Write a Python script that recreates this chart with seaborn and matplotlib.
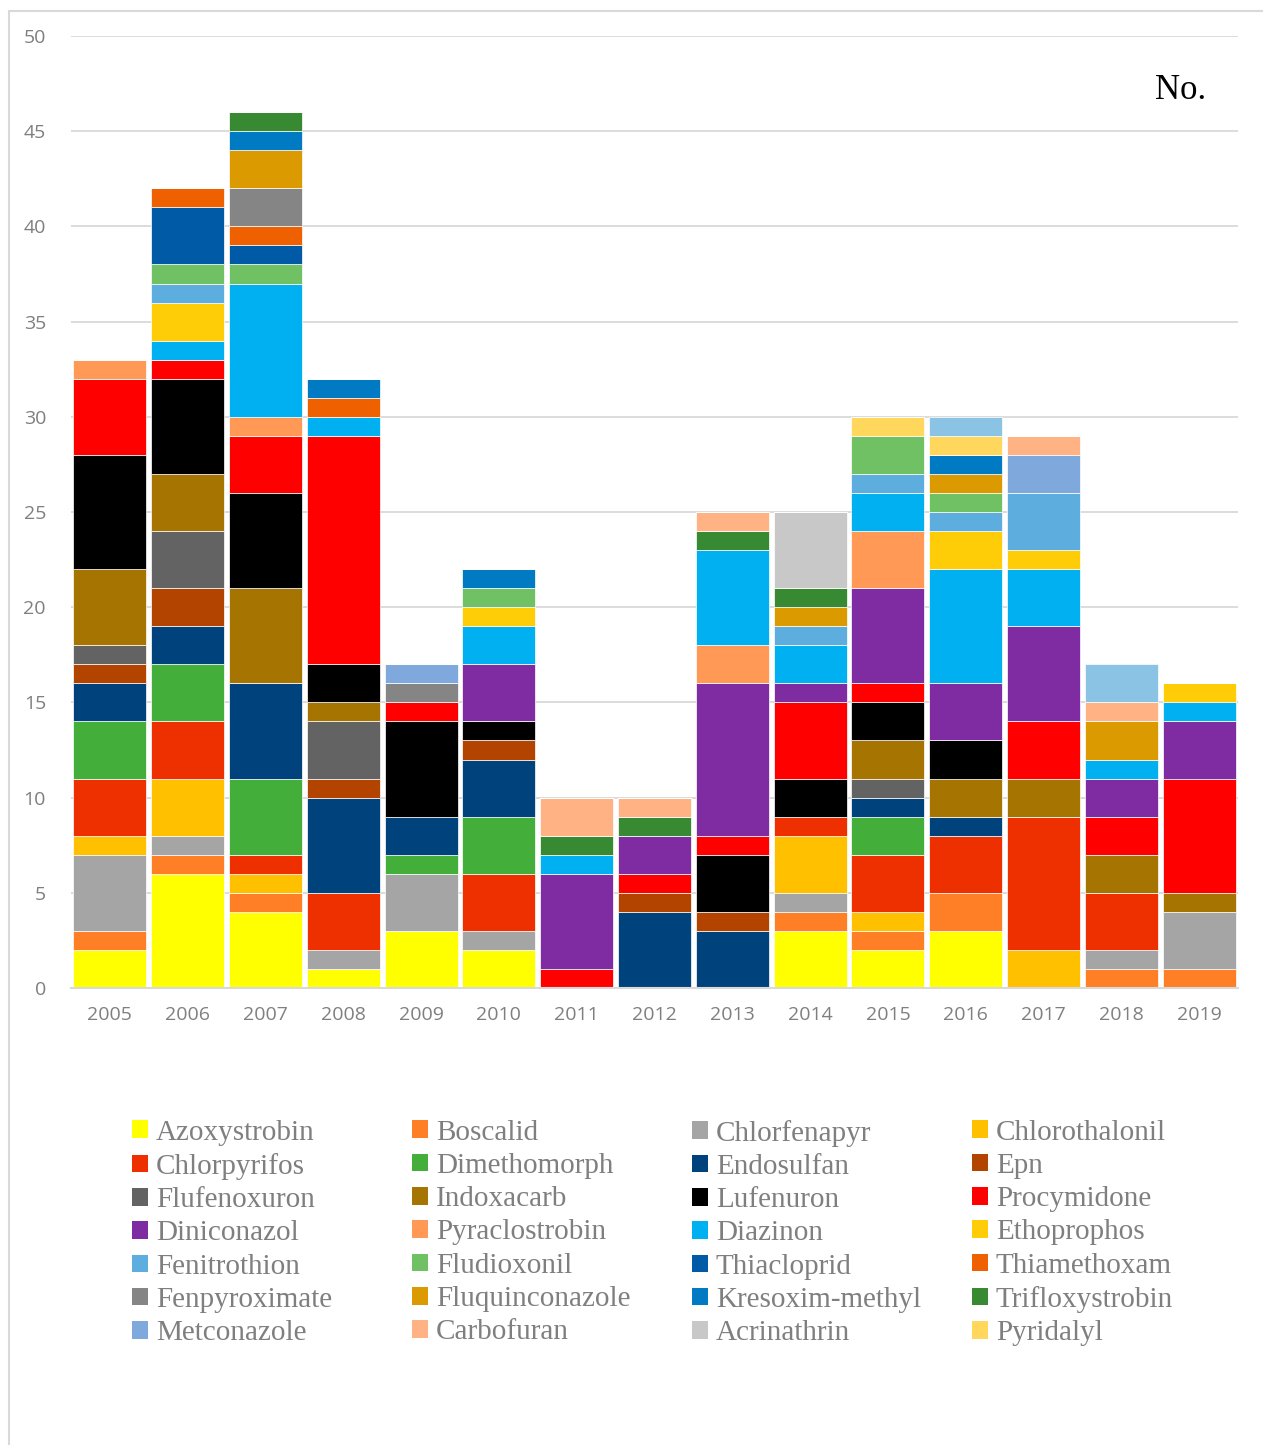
import pandas as pd
import seaborn as sns
import matplotlib.pyplot as plt
from matplotlib.patches import Patch
from matplotlib.lines import Line2D

years = list(range(2005, 2020))

# counts per year, 2005 ... 2019 (stacked bottom -> top in this order)
azoxystrobin    = [2, 6, 4, 1, 3, 2, 0, 0, 0, 3, 2, 3, 0, 0, 0]
boscalid        = [1, 1, 1, 0, 0, 0, 0, 0, 0, 1, 1, 2, 0, 1, 1]
chlorfenapyr    = [4, 1, 0, 1, 3, 1, 0, 0, 0, 1, 0, 0, 0, 1, 3]
chlorothalonil  = [1, 3, 1, 0, 0, 0, 0, 0, 0, 3, 1, 0, 2, 0, 0]
chlorpyrifos    = [3, 3, 1, 3, 0, 3, 0, 0, 0, 1, 3, 3, 7, 3, 0]
dimethomorph    = [3, 3, 4, 0, 1, 3, 0, 0, 0, 0, 2, 0, 0, 0, 0]
endosulfan      = [2, 2, 5, 5, 2, 3, 0, 4, 3, 0, 1, 1, 0, 0, 0]
epn             = [1, 2, 0, 1, 0, 1, 0, 1, 1, 0, 0, 0, 0, 0, 0]
flufenoxuron    = [1, 3, 0, 3, 0, 0, 0, 0, 0, 0, 1, 0, 0, 0, 0]
indoxacarb      = [4, 3, 5, 1, 0, 0, 0, 0, 0, 0, 2, 2, 2, 2, 1]
lufenuron       = [6, 5, 5, 2, 5, 1, 0, 0, 3, 2, 2, 2, 0, 0, 0]
procymidone     = [4, 1, 3, 12, 1, 0, 1, 1, 1, 4, 1, 0, 3, 2, 6]
diniconazol     = [0, 0, 0, 0, 0, 3, 5, 2, 8, 1, 5, 3, 5, 2, 3]
pyraclostrobin  = [1, 0, 1, 0, 0, 0, 0, 0, 2, 0, 3, 0, 0, 0, 0]
diazinon        = [0, 1, 7, 1, 0, 2, 1, 0, 5, 2, 2, 6, 3, 1, 1]
ethoprophos     = [0, 2, 0, 0, 0, 1, 0, 0, 0, 0, 0, 2, 1, 0, 1]
fenitrothion    = [0, 1, 0, 0, 0, 0, 0, 0, 0, 1, 1, 1, 3, 0, 0]
fludioxonil     = [0, 1, 1, 0, 0, 1, 0, 0, 0, 0, 2, 1, 0, 0, 0]
thiacloprid     = [0, 3, 1, 0, 0, 0, 0, 0, 0, 0, 0, 0, 0, 0, 0]
thiamethoxam    = [0, 1, 1, 1, 0, 0, 0, 0, 0, 0, 0, 0, 0, 0, 0]
fenpyroximate   = [0, 0, 2, 0, 1, 0, 0, 0, 0, 0, 0, 0, 0, 0, 0]
fluquinconazole = [0, 0, 2, 0, 0, 0, 0, 0, 0, 1, 0, 1, 0, 2, 0]
kresoxim_methyl = [0, 0, 1, 1, 0, 1, 0, 0, 0, 0, 0, 1, 0, 0, 0]
trifloxystrobin = [0, 0, 1, 0, 0, 0, 1, 1, 1, 1, 0, 0, 0, 0, 0]
metconazole     = [0, 0, 0, 0, 1, 0, 0, 0, 0, 0, 0, 0, 2, 0, 0]
carbofuran      = [0, 0, 0, 0, 0, 0, 2, 1, 1, 0, 0, 0, 1, 1, 0]
acrinathrin     = [0, 0, 0, 0, 0, 0, 0, 0, 0, 4, 0, 0, 0, 0, 0]
pyridalyl       = [0, 0, 0, 0, 0, 0, 0, 0, 0, 0, 1, 1, 0, 0, 0]
unlisted        = [0, 0, 0, 0, 0, 0, 0, 0, 0, 0, 0, 1, 0, 2, 0]  # top segment with no legend entry

names = ['Azoxystrobin', 'Boscalid', 'Chlorfenapyr', 'Chlorothalonil',
         'Chlorpyrifos', 'Dimethomorph', 'Endosulfan', 'Epn',
         'Flufenoxuron', 'Indoxacarb', 'Lufenuron', 'Procymidone',
         'Diniconazol', 'Pyraclostrobin', 'Diazinon', 'Ethoprophos',
         'Fenitrothion', 'Fludioxonil', 'Thiacloprid', 'Thiamethoxam',
         'Fenpyroximate', 'Fluquinconazole', 'Kresoxim-methyl', 'Trifloxystrobin',
         'Metconazole', 'Carbofuran', 'Acrinathrin', 'Pyridalyl', 'Unlisted']
series = [azoxystrobin, boscalid, chlorfenapyr, chlorothalonil,
          chlorpyrifos, dimethomorph, endosulfan, epn,
          flufenoxuron, indoxacarb, lufenuron, procymidone,
          diniconazol, pyraclostrobin, diazinon, ethoprophos,
          fenitrothion, fludioxonil, thiacloprid, thiamethoxam,
          fenpyroximate, fluquinconazole, kresoxim_methyl, trifloxystrobin,
          metconazole, carbofuran, acrinathrin, pyridalyl, unlisted]
colors = ['#FFFF00', '#FF7F27', '#A5A5A5', '#FFC000',
          '#EE3000', '#43AE3A', '#00437C', '#B34400',
          '#636363', '#A67400', '#000000', '#FF0000',
          '#7F2CA3', '#FF9955', '#00B0F0', '#FFCC08',
          '#5DAEDF', '#6FC164', '#005AA6', '#EE6000',
          '#858585', '#DB9A00', '#007AC3', '#388A32',
          '#7FA8DC', '#FFB283', '#C8C8C8', '#FFD75C', '#8BC3E5']

rows = []
for name, vals in zip(names, series):
    for yr, v in zip(years, vals):
        if v > 0:
            rows.append({'year': yr, 'pesticide': name, 'count': v})
df = pd.DataFrame(rows)
palette = dict(zip(names, colors))

sns.set_style('white')
plt.rcParams['font.family'] = ['Open Sans', 'DejaVu Sans']

fig = plt.figure(figsize=(12.63, 14.45), dpi=100)
ax = fig.add_axes([71 / 1263, 1 - 988 / 1445, (1238 - 71) / 1263, (988 - 36) / 1445])

# histplot stacks the last hue level at the bottom, so reverse the order
sns.histplot(data=df, x='year', weights='count', hue='pesticide',
             hue_order=names[::-1], palette=palette, multiple='stack',
             discrete=True, shrink=0.94, alpha=1, edgecolor='white',
             linewidth=0.5, legend=False, ax=ax)

ax.set_xlim(2004.5, 2019.5)
ax.set_ylim(0, 50)
ax.set_xticks(years)
ax.set_xticklabels([str(y) for y in years])
ax.set_yticks(range(0, 51, 5))
ax.set_xlabel('')
ax.set_ylabel('')
ax.yaxis.grid(True, color='#D9D9D9', linewidth=1.3)
ax.set_axisbelow(True)
for side in ['left', 'right', 'top']:
    ax.spines[side].set_visible(False)
ax.spines['bottom'].set_color('#D9D9D9')
ax.spines['bottom'].set_linewidth(1.5)
ax.tick_params(axis='both', length=0, labelsize=14, labelcolor='#7F7F7F')
ax.tick_params(axis='y', pad=18)
ax.tick_params(axis='x', pad=13)

ax.text(0.951, 0.943, 'No.', transform=ax.transAxes, ha='center', va='center',
        fontsize=25, family='Liberation Serif', color='black')

# legend: 4 columns x 7 rows, filled row by row
for c in range(4):
    idx = [r * 4 + c for r in range(7)]
    handles = [Patch(facecolor=colors[i], edgecolor='none') for i in idx]
    labels = [names[i] for i in idx]
    fig.legend(handles, labels, loc='upper left',
               bbox_to_anchor=((117 + 280 * c) / 1263, 1 - 1105 / 1445),
               frameon=False, borderpad=0, labelspacing=0.25,
               handlelength=0.55, handleheight=0.55, handletextpad=0.28,
               prop={'family': 'Liberation Serif', 'size': 21},
               labelcolor='#7F7F7F')

# chart border
fig.add_artist(Line2D([9 / 1263, 1], [1 - 11 / 1445, 1 - 11 / 1445],
                      transform=fig.transFigure, color='#D9D9D9', lw=1.5))
fig.add_artist(Line2D([9 / 1263, 9 / 1263], [0, 1 - 11 / 1445],
                      transform=fig.transFigure, color='#D9D9D9', lw=1.5))

fig.savefig('out.png', dpi=100)
